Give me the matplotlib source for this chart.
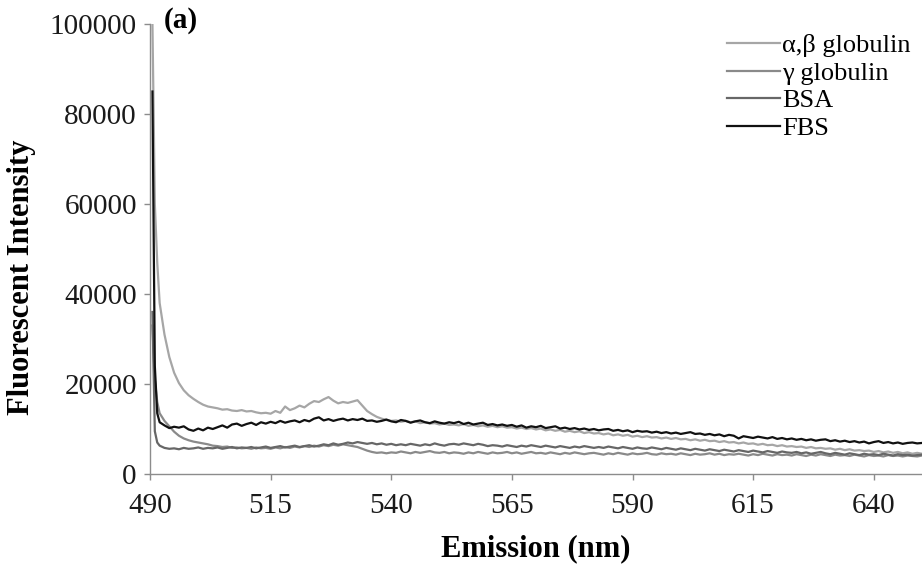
import numpy as np
import matplotlib
matplotlib.use("Agg")
import matplotlib.pyplot as plt

plt.rcParams['font.family'] = ['Liberation Serif', 'DejaVu Serif']

# Emission wavelengths (nm): half-nm steps over the scatter spike, then 1 nm
wavelength = np.concatenate([[490.5, 491, 491.5], np.arange(492, 651, 1)])

ab_globulin = [
    100500, 60000, 47000, 38000,
    31000, 26000, 22500, 20200, 18600, 17500, 16700, 16000, 15400, 15000,
    14800, 14600, 14300, 14400, 14100, 14000, 14200, 13900, 14000, 13700,
    13500, 13600, 13400, 14000, 13600, 15000, 14200, 14600, 15200, 14800,
    15600, 16200, 16000, 16600, 17100, 16300, 15700, 16000, 15800, 16100,
    16400, 15200, 14000, 13300, 12700, 12300, 12000, 11800, 11900, 11600,
    11800, 11500, 11700, 11300, 11500, 11200, 11300, 11000, 11200, 10900,
    11000, 10800, 11100, 10700, 10900, 10600, 10800, 10500, 10700, 10400,
    10600, 10300, 10400, 10100, 10300, 10000, 10200, 9900, 10100, 9700,
    9900, 9600, 9800, 9400, 9600, 9300, 9500, 9100, 9300, 9000,
    9100, 8800, 9000, 8600, 8800, 8500, 8700, 8300, 8500, 8200,
    8400, 8100, 8200, 7900, 8100, 7800, 8000, 7700, 7800, 7500,
    7700, 7400, 7600, 7300, 7400, 7100, 7300, 7000, 7100, 6800,
    7000, 6700, 6800, 6500, 6700, 6400, 6500, 6200, 6400, 6100,
    6200, 6000, 6100, 5800, 6000, 5700, 5800, 5600, 5700, 5400,
    5600, 5300, 5500, 5200, 5300, 5100, 5200, 4900, 5100, 4800,
    5000, 4700, 4900, 4600, 4800, 4500, 4700, 4500,
]

g_globulin = [
    33000, 21000, 16000, 13500,
    11800, 10600, 9400, 8500, 7900, 7500, 7200, 7000, 6800, 6600,
    6300, 6200, 6000, 6100, 5800, 5900, 5700, 5800, 5600, 5900,
    5700, 5800, 5600, 5900, 5700, 6000, 5800, 6100, 5900, 6200,
    6000, 6300, 6100, 6400, 6200, 6500, 6300, 6600, 6400, 6200,
    6000, 5600, 5200, 4900, 4700, 4800, 4600, 4800, 4700, 5000,
    4800, 4600, 4900, 4700, 4900, 5100, 4800, 4700, 4900, 4600,
    4800, 4700, 4500, 4800, 4600, 4900, 4700, 4500, 4800, 4600,
    4700, 4900, 4600, 4800, 4500, 4700, 4900, 4600, 4700, 4500,
    4800, 4600, 4400, 4700, 4500, 4800, 4600, 4400, 4600, 4700,
    4500, 4300, 4600, 4400, 4700, 4500, 4300, 4600, 4400, 4500,
    4700, 4400, 4300, 4600, 4400, 4500, 4300, 4600, 4400, 4200,
    4500, 4300, 4400, 4600, 4300, 4500, 4200, 4400, 4300, 4500,
    4300, 4100, 4400, 4200, 4500, 4300, 4100, 4400, 4200, 4300,
    4100, 4400, 4200, 4000, 4300, 4100, 4400, 4200, 4000, 4300,
    4100, 4200, 4000, 4300, 4100, 3900, 4200, 4000, 4100, 3900,
    4200, 4000, 4100, 3900, 4100, 4000, 3900, 4100,
]

bsa = [
    36000, 9500, 7000, 6300,
    5800, 5600, 5700, 5500, 5800, 5600, 5700, 5900, 5600, 5800,
    5700, 5900, 5600, 5800, 6000, 5700, 5900, 5800, 6000, 5700,
    5900, 6100, 5800, 6000, 6200, 5900, 6100, 6300, 6000, 6200,
    6400, 6100, 6300, 6600, 6400, 6800, 6500, 6700, 7000, 6800,
    7100, 6900, 6700, 6900, 6600, 6800, 6500, 6700, 6400, 6600,
    6400, 6700, 6500, 6300, 6600, 6400, 6800, 6500, 6300, 6600,
    6700, 6500, 6800, 6600, 6400, 6700, 6500, 6200, 6400, 6300,
    6100, 6400, 6200, 6000, 6300, 6100, 6400, 6200, 6000, 6300,
    6100, 5900, 6200, 6000, 5800, 6100, 5900, 6200, 6000, 5800,
    6000, 5800, 6100, 5900, 5700, 6000, 5800, 5600, 5900, 5700,
    5600, 5900, 5700, 5500, 5800, 5600, 5400, 5700, 5500, 5300,
    5600, 5400, 5200, 5500, 5300, 5100, 5400, 5200, 5000, 5300,
    5100, 4900, 5200, 5000, 4800, 5100, 4900, 4700, 5000, 4800,
    4700, 4900, 4600, 4800, 4500, 4700, 4900, 4600, 4400, 4700,
    4500, 4300, 4600, 4400, 4200, 4500, 4300, 4400, 4200, 4500,
    4300, 4100, 4400, 4200, 4300, 4100, 4200, 4300,
]

fbs = [
    85000, 24000, 13500, 11500,
    10800, 10200, 10500, 10300, 10600, 9900, 9600, 10100, 9700, 10300,
    10000, 10400, 10800, 10300, 11000, 11200, 10700, 11100, 11400, 10900,
    11500, 11200, 11600, 11300, 11800, 11400, 11700, 11900, 11500, 12000,
    11700, 12300, 12600, 11900, 12200, 11800, 12100, 12300, 11900, 12200,
    12000, 12300, 11800, 11900, 11600, 11800, 12100, 11700, 11500, 12000,
    11800, 11400, 11700, 11900, 11500, 11300, 11700, 11400, 11200, 11500,
    11300, 11600, 11100, 11400, 11000, 11200, 11400, 10900, 11100, 10800,
    11000, 10700, 10900, 10500, 10800, 10300, 10600, 10400, 10700, 10200,
    10400, 10600, 10100, 10300, 10000, 10200, 9900, 10100, 9800, 10000,
    9700, 9900, 10000, 9600, 9800, 9500, 9700, 9300, 9600, 9400,
    9500, 9200, 9400, 9100, 9300, 9000, 9200, 8900, 9100, 9300,
    8900, 9000, 8700, 8900, 8600, 8800, 8400, 8700, 8500, 7900,
    8400, 8200, 8000, 8300, 8100, 7900, 8200, 7800, 8000, 7700,
    7900, 7600, 7800, 7500, 7700, 7400, 7600, 7700, 7300, 7500,
    7200, 7400, 7100, 7300, 7000, 7200, 6800, 7100, 7300, 6900,
    7100, 6800, 7000, 6700, 6900, 7000, 6800, 6900,
]

series = [
    ("α,β globulin", ab_globulin, "#a6a6a6"),
    ("γ globulin", g_globulin, "#8a8a8a"),
    ("BSA", bsa, "#676767"),
    ("FBS", fbs, "#111111"),
]

fig = plt.figure(figsize=(9.22, 5.73), dpi=100)
ax = fig.add_axes([150 / 922, 99 / 573, 772 / 922, 450 / 573])

for label, values, color in series:
    ax.plot(wavelength, values, color=color, lw=1.6, label=label)

ax.set_xlim(490, 650)
ax.set_ylim(0, 100000)
ax.set_xticks([490, 515, 540, 565, 590, 615, 640])
ax.set_yticks([0, 20000, 40000, 60000, 80000, 100000])

for side in ("top", "right"):
    ax.spines[side].set_visible(False)
for side in ("left", "bottom"):
    ax.spines[side].set_color("#8c8c8c")
    ax.spines[side].set_linewidth(1.0)

ax.tick_params(axis="both", direction="out", length=4.5, width=1.0,
               color="#8c8c8c", labelsize=21, labelcolor="#1a1a1a")
ax.tick_params(axis="y", pad=5)
ax.tick_params(axis="x", pad=9)

ax.set_xlabel("Emission (nm)", fontsize=22, fontweight="bold")
ax.set_ylabel("Fluorescent Intensity", fontsize=22, fontweight="bold")
ax.xaxis.set_label_coords(0.5, -(549 - 474) / 450)
ax.yaxis.set_label_coords(-(150 - 22) / 772, (474 - 277) / 450)
ax.xaxis.label.set_va("center")
ax.yaxis.label.set_va("center")

fig.text(164 / 922, 1 - 20 / 573, "(a)", fontsize=21, fontweight="bold",
         ha="left", va="center")

leg = ax.legend(loc="upper left", bbox_to_anchor=(727 / 922, 1 - 34 / 573),
                bbox_transform=fig.transFigure, frameon=False, fontsize=19,
                handlelength=2.0, handletextpad=0.08, labelspacing=0.15,
                borderpad=0, borderaxespad=0)

fig.savefig("out.png", dpi=100)
